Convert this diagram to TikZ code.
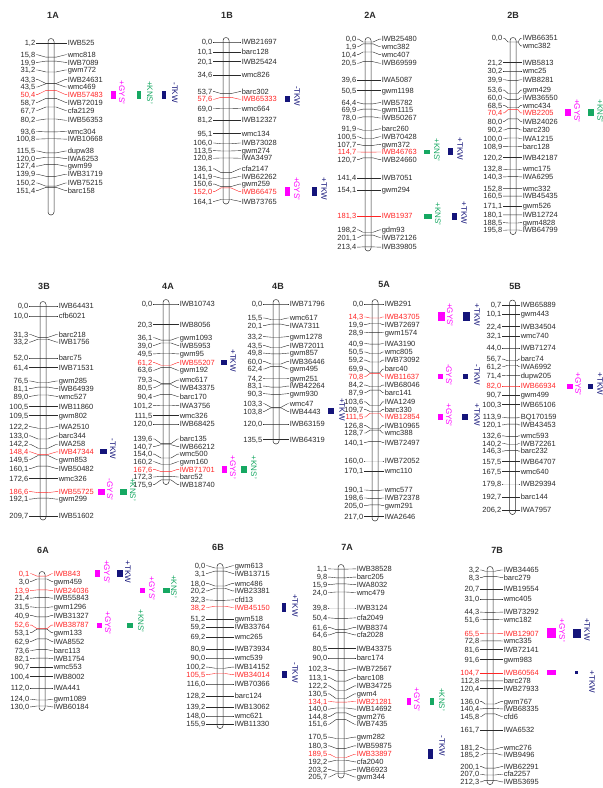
\documentclass[tikz,border=0pt]{standalone}
\usepackage{fontspec}
\setmainfont{Liberation Sans}
\usetikzlibrary{calc}
\definecolor{mkred}{HTML}{FF2626}
\definecolor{mkgray}{HTML}{2A2A2A}
\definecolor{qmag}{HTML}{FF00FF}
\definecolor{qgrn}{HTML}{16A862}
\definecolor{qnav}{HTML}{14147A}
\newcount\mkN
\def\mkd{7.6}
% #1 id, #2 xc, #3 y0, #4 scale, #5 xL, #6 xR, #7 bar top, #8 bar bottom, #9 list
\newcommand\chromo[9]{%
  \global\mkN=0
  \foreach \ca/\cb/\cn/\cf in {#9}{%
    \global\advance\mkN by 1
    \pgfmathsetmacro\mkt{#3+#4*\ca.\cb}%
    \expandafter\xdef\csname mkT\the\mkN\endcsname{\mkt}%
    \expandafter\xdef\csname mkP\the\mkN\endcsname{\ca,\cb}%
    \expandafter\xdef\csname mkM\the\mkN\endcsname{\cn}%
    \expandafter\xdef\csname mkF\the\mkN\endcsname{\cf}%
  }%
  \edef\mkn{\the\mkN}%
  \xdef\mkprev{-5000}%
  \foreach \i in {1,...,\mkn}{%
    \pgfmathsetmacro\mkf{max(\csname mkT\i\endcsname,\mkprev+\mkd)}%
    \expandafter\xdef\csname mkFw\i\endcsname{\mkf}%
    \xdef\mkprev{\mkf}%
  }%
  \xdef\mkprev{5000}%
  \foreach \i in {\mkn,...,1}{%
    \pgfmathsetmacro\mkb{min(\csname mkT\i\endcsname,\mkprev-\mkd)}%
    \expandafter\xdef\csname mkBw\i\endcsname{\mkb}%
    \xdef\mkprev{\mkb}%
  }%
  \draw[chrbar] (#2-3,#7) rectangle (#2+3,#8);
  \foreach \i in {1,...,\mkn}{%
    \pgfmathsetmacro\mkL{(\csname mkFw\i\endcsname+\csname mkBw\i\endcsname)/2}%
    \edef\mkT{\csname mkT\i\endcsname}%
    \edef\mkfl{\csname mkF\i\endcsname}%
    \if r\mkfl\def\mkcol{mkred}\else\def\mkcol{mkgray}\fi
    \if n\mkfl
      \node[mkname,text=mkgray,anchor=west] (#1-m\i) at (#6,\mkL) {\csname mkM\i\endcsname};
      \draw[mkline,draw=mkgray] (#2+3,\mkT) -- (#2+5,\mkT) -- ($(#1-m\i.west)+(-1.5,0)$) -- (#1-m\i.west);
    \else
      \node[mknum,text=\mkcol,anchor=east] (#1-n\i) at (#5,\mkL) {\csname mkP\i\endcsname};
      \node[mkname,text=\mkcol,anchor=west] (#1-m\i) at (#6,\mkL) {\csname mkM\i\endcsname};
      \draw[mkline,draw=\mkcol] (#1-n\i.east) -- ++(1.5,0) -- (#2-5,\mkT) -- (#2+5,\mkT) -- ($(#1-m\i.west)+(-1.5,0)$) -- (#1-m\i.west);
    \fi
  }%
}
% #1 chr, #2 marker, #3 box x, #4 w, #5 h, #6 colour, #7 text, #8 text x, #9 text dy
\newcommand\qtl[9]{%
  \coordinate (qx) at (#3,0);
  \coordinate (qtx) at (#8,0);
  \node[qbox,fill=#6,minimum width=#4pt,minimum height=#5pt] (#1-q#2#6) at (qx |- #1-m#2.west) {};
  \node[qtext,text=#6] (#1-t#2#6) at ($(qtx |- #1-m#2.west)+(0,#9)$) {#7};
}
\begin{document}
\begin{tikzpicture}[x=1pt,y=-1pt,
  chrbar/.style={draw=mkgray,line width=0.5pt,fill=white,rounded corners=2.9pt},
  mkline/.style={line width=0.4pt},
  mknum/.style={font=\fontsize{7.5}{8}\selectfont,inner sep=0.6pt,text height=5.4pt,text depth=0pt},
  mkname/.style={font=\fontsize{7.5}{8}\selectfont,inner sep=0.6pt,text height=5.4pt,text depth=0pt},
  qbox/.style={inner sep=0pt,outer sep=0pt,draw=none},
  qtext/.style={font=\fontsize{8}{9}\selectfont,inner sep=0pt,rotate=-90},
  ctitle/.style={font=\bfseries\fontsize{9}{10}\selectfont,text=mkgray}]
\useasboundingbox (0,0) rectangle (603,788);
\fill[white] (0,0) rectangle (603,788);

\node[ctitle] (T1A) at (53,15) {1A};
\node[ctitle] (T1B) at (227,15) {1B};
\node[ctitle] (T2A) at (370,15) {2A};
\node[ctitle] (T2B) at (513,15) {2B};
\node[ctitle] (T3B) at (44,286) {3B};
\node[ctitle] (T4A) at (168,286) {4A};
\node[ctitle] (T4B) at (278,286) {4B};
\node[ctitle] (T5A) at (384,284) {5A};
\node[ctitle] (T5B) at (515,286) {5B};
\node[ctitle] (T6A) at (43,550) {6A};
\node[ctitle] (T6B) at (218,547) {6B};
\node[ctitle] (T7A) at (347,547) {7A};
\node[ctitle] (T7B) at (497,550) {7B};

\chromo{1A}{51}{42}{0.96}{36}{67}{38.5}{215}{1/2/IWB525/k, 15/8/wmc818/k, 19/9/IWB7089/k, 31/2/gwm772/k, 43/3/IWB24631/k, 43/5/wmc469/k, 50/4/IWB57483/r, 58/7/IWB72019/k, 67/7/cfa2129/k, 80/2/IWB56353/k, 93/6/wmc304/k, 100/8/IWB10668/k, 115/5/dupw38/k, 120/0/IWA6253/k, 127/4/gwm99/k, 139/9/IWB31719/k, 150/2/IWB75215/k, 151/4/barc158/k}

\chromo{1B}{226}{42}{0.96}{213}{241}{37.5}{204}{0/0/IWB21697/k, 10/1/barc128/k, 20/1/IWB25424/k, 34/6/wmc826/k, 53/7/barc302/k, 57/6/IWB65333/r, 69/0/wmc664/k, 81/2/IWB12327/k, 95/1/wmc134/k, 106/0/IWB73028/k, 113/5/gwm274/k, 120/8/IWA3497/k, 136/1/cfa2147/k, 141/9/IWB62262/k, 150/6/gwm259/k, 152/0/IWB66475/r, 164/1/IWB73765/k}

\chromo{2A}{368}{42}{0.96}{357}{381}{37.5}{251}{0/0/IWB25480/k, 1/9/wmc382/k, 10/4/wmc407/k, 20/5/IWB69599/k, 39/6/IWA5087/k, 50/5/gwm1198/k, 64/4/IWB5782/k, 69/9/gwm1115/k, 78/0/IWB50267/k, 91/9/barc260/k, 100/5/IWB70428/k, 107/7/gwm372/k, 114/7/IWB46763/r, 120/7/IWB24660/k, 141/4/IWB7051/k, 154/1/gwm294/k, 181/3/IWB1937/r, 198/2/gdm93/k, 201/1/IWB72126/k, 213/4/IWB39805/k}

\chromo{2B}{513}{42}{0.96}{503}{522}{37.5}{234.5}{0/0/IWB66351/k, 0/0/wmc382/n, 21/2/IWB5813/k, 30/2/wmc25/k, 39/9/IWB8281/k, 53/6/gwm429/k, 60/0/IWB36550/k, 68/5/wmc434/k, 70/4/IWB2205/r, 80/0/IWB24026/k, 90/2/barc230/k, 100/0/IWA1215/k, 108/9/barc128/k, 120/2/IWB42187/k, 132/8/wmc175/k, 140/3/IWA6295/k, 152/8/wmc332/k, 160/5/IWB45435/k, 171/1/gwm526/k, 180/1/IWB12724/k, 188/5/gwm4828/k, 195/8/IWB64799/k}

\chromo{3B}{43}{306}{1}{29}{58}{301.5}{520}{0/0/IWB64431/k, 10/0/cfb6021/k, 31/3/barc218/k, 33/2/IWB1756/k, 52/0/barc75/k, 61/4/IWB71531/k, 76/5/gwm285/k, 81/1/IWB64939/k, 89/0/wmc527/k, 100/5/IWB11860/k, 109/5/gwm802/k, 122/2/IWA2510/k, 133/0/barc344/k, 142/2/IWA258/k, 148/4/IWB47344/r, 149/5/gwm853/k, 160/1/IWB50482/k, 172/6/wmc326/k, 186/6/IWB55725/r, 192/1/gwm299/k, 209/7/IWB51602/k}

\chromo{4A}{166}{304}{1}{153}{179}{299.5}{484.5}{0/0/IWB10743/k, 20/3/IWB8056/k, 36/1/gwm1093/k, 39/0/IWB5953/k, 49/5/gwm95/k, 61/2/IWB55207/r, 63/6/gwm192/k, 79/3/wmc617/k, 80/5/IWB43375/k, 90/4/barc170/k, 101/2/IWA3756/k, 111/5/wmc326/k, 120/0/IWB68425/k, 139/6/barc135/k, 140/7/IWB66212/k, 154/0/wmc500/k, 160/2/gwm160/k, 167/6/IWB71701/r, 172/3/barc52/k, 175/9/IWB18740/k}

\chromo{4B}{276}{304}{1}{263}{289}{299.5}{444}{0/0/IWB71796/k, 15/5/wmc617/k, 20/1/IWA7311/k, 33/2/gwm1278/k, 43/5/IWB72011/k, 49/8/gwm857/k, 60/0/IWB36446/k, 62/4/gwm495/k, 74/2/gwm251/k, 83/1/IWB42264/k, 90/3/gwm930/k, 103/3/wmc47/k, 103/8/IWB4443/k, 120/0/IWB63159/k, 135/5/IWB64319/k}

\chromo{5A}{375}{304}{0.98}{364}{384}{299.5}{521}{0/0/IWB291/k, 14/3/IWB43705/r, 19/9/IWB72697/k, 28/9/gwm1574/k, 40/9/IWA3190/k, 50/5/wmc805/k, 59/2/IWB73092/k, 69/9/barc40/k, 70/8/IWB11637/r, 84/2/IWB68046/k, 87/9/barc141/k, 103/6/IWA1249/k, 109/7/barc330/k, 111/5/IWB12854/r, 126/8/IWB10965/k, 128/7/wmc388/k, 140/1/IWB72497/k, 160/0/IWB72052/k, 170/1/wmc110/k, 190/1/wmc577/k, 198/6/IWB72378/k, 205/0/gwm291/k, 217/0/IWA2646/k}

\chromo{5B}{512.5}{304}{1}{502}{520}{300}{514.5}{0/7/IWB65889/k, 10/1/gwm443/k, 22/4/IWB34504/k, 32/1/wmc740/k, 44/0/IWB71274/k, 56/7/barc74/k, 61/2/IWA6992/k, 71/4/dupw205/k, 82/0/IWB66934/r, 90/7/gwm499/k, 100/3/IWB65106/k, 113/9/BQ170159/k, 120/1/IWB43453/k, 132/6/wmc593/k, 140/2/IWB72261/k, 146/3/barc232/k, 157/5/IWB64707/k, 167/5/wmc640/k, 179/8/IWB29394/k, 192/7/barc144/k, 206/2/IWA7957/k}

\chromo{6A}{42}{576}{1}{30}{53}{571.5}{710.5}{0/1/IWB843/r, 3/0/gwm459/k, 13/9/IWB24036/r, 21/4/IWB55843/k, 31/5/gwm1296/k, 40/9/IWB31327/k, 52/6/IWB38787/r, 53/1/gwm133/k, 62/9/IWA8552/k, 73/6/barc113/k, 82/1/IWB1754/k, 90/7/wmc553/k, 100/4/IWB8002/k, 112/0/IWA441/k, 124/0/gwm1089/k, 130/0/IWB60184/k}

\chromo{6B}{220}{568}{1}{206}{234}{563.5}{728.5}{0/0/gwm613/k, 3/1/IWB13715/k, 18/0/wmc486/k, 20/2/IWB23381/k, 32/3/cfd13/k, 38/2/IWB45150/r, 51/2/gwm518/k, 59/2/IWB33764/k, 69/2/wmc265/k, 80/9/IWB73934/k, 90/0/wmc539/k, 100/2/IWB14152/k, 105/5/IWB34014/r, 116/0/IWB70366/k, 128/2/barc124/k, 139/2/IWB13062/k, 148/0/wmc621/k, 155/9/IWB11330/k}

\chromo{7A}{341}{568}{1}{328}{356}{564.5}{778}{1/1/IWB38528/k, 9/8/barc205/k, 15/9/IWA8032/k, 24/0/wmc479/k, 39/8/IWB3124/k, 50/4/cfa2049/k, 61/6/IWB8374/k, 64/6/cfa2028/k, 80/5/IWB43375/k, 90/0/barc174/k, 102/3/IWB72567/k, 113/1/barc108/k, 122/2/IWB34725/k, 130/5/gwm4/k, 134/1/IWB21281/r, 140/0/IWB14692/k, 144/8/gwm276/k, 151/6/IWB7435/k, 170/5/gwm282/k, 180/3/IWB59875/k, 189/5/IWB33897/r, 192/2/cfa2040/k, 203/2/IWB6923/k, 205/7/gwm344/k}

\chromo{7B}{490}{568}{1}{480}{503}{566.5}{784.5}{3/2/IWB34465/k, 8/3/barc279/k, 20/7/IWB19554/k, 31/0/wmc405/k, 44/3/IWB73292/k, 51/6/wmc182/k, 65/5/IWB12907/r, 72/8/wmc335/k, 81/6/IWB72141/k, 91/6/gwm983/k, 104/7/IWB60564/r, 112/8/barc278/k, 120/4/IWB27933/k, 136/0/gwm767/k, 140/4/IWB68335/k, 145/8/cfd6/k, 161/7/IWA6532/k, 181/2/wmc276/k, 185/2/IWB9496/k, 200/1/IWB62291/k, 207/0/cfa2257/k, 212/3/IWB53695/k}

\qtl{1A}{7}{113.5}{5}{8}{qmag}{+GYS'}{122}{-2}
\qtl{1A}{7}{138.5}{4}{8}{qgrn}{+KNS'}{150}{-2}
\qtl{1A}{7}{164}{4}{8}{qnav}{-TKW}{175}{-2}
\qtl{1B}{6}{287.5}{5}{6}{qnav}{-TKW}{297}{-3}
\qtl{1B}{16}{287.5}{5}{9}{qmag}{+GYS'}{297}{-3}
\qtl{1B}{16}{314.5}{5}{9}{qnav}{+TKW}{324}{-3}
\qtl{2A}{13}{427}{6}{4}{qgrn}{+KNS'}{437}{-2}
\qtl{2A}{13}{450}{5}{7}{qnav}{+TKW}{460}{-3}
\qtl{2A}{17}{428}{8}{5}{qgrn}{+KNS'}{438}{-2}
\qtl{2A}{17}{454}{5}{7}{qnav}{+TKW}{464}{-3}
\qtl{2B}{9}{568}{6}{7}{qmag}{+GYS'}{577}{-2}
\qtl{2B}{9}{591}{6}{7}{qgrn}{+KNS'}{600}{-2}
\qtl{3B}{15}{103.5}{7}{5}{qnav}{-TKW}{113}{-3}
\qtl{3B}{19}{101.5}{7}{6}{qmag}{-GYS'}{110}{-2}
\qtl{3B}{19}{123.5}{7}{6}{qgrn}{+KNS'}{133}{-2}
\qtl{4A}{6}{224}{6}{5}{qnav}{+TKW}{233}{-2}
\qtl{4A}{18}{224.5}{5}{7}{qmag}{+GYS'}{233}{-2}
\qtl{4A}{18}{244}{6}{7}{qgrn}{+KNS'}{254}{-2}
\qtl{4B}{13}{331}{6}{6}{qnav}{+TKW}{342}{-2}
\qtl{5A}{2}{441.5}{7}{9}{qmag}{+GYS'}{450}{-2}
\qtl{5A}{2}{466.5}{7}{9}{qnav}{+TKW}{477}{-2}
\qtl{5A}{9}{440.5}{5}{5}{qmag}{-GYS'}{449}{-2}
\qtl{5A}{9}{465.5}{5}{5}{qnav}{-TKW}{477}{-2}
\qtl{5A}{14}{440.5}{5}{6}{qmag}{+GYS'}{449}{-2}
\qtl{5A}{14}{465}{6}{6}{qnav}{+TKW}{477}{-2}
\qtl{5B}{9}{570}{6}{5}{qmag}{+GYS'}{578}{-2}
\qtl{5B}{9}{590.5}{5}{5}{qnav}{+TKW}{600}{-2}
\qtl{6A}{1}{97.5}{5}{7}{qmag}{+GYS'}{107}{-2}
\qtl{6A}{1}{120}{6}{7}{qnav}{+TKW}{128}{-2}
\qtl{6A}{3}{142.5}{5}{5}{qmag}{+GYS'}{152}{-2}
\qtl{6A}{3}{166.5}{7}{5}{qgrn}{+KNS'}{174}{-4}
\qtl{6A}{7}{99.5}{5}{5}{qmag}{+GYS'}{108}{-2}
\qtl{6A}{7}{130}{6}{5}{qgrn}{+KNS'}{141}{-4}
\qtl{6B}{6}{284}{4}{9}{qnav}{+TKW}{295}{-2}
\qtl{6B}{13}{284.5}{5}{7}{qnav}{-TKW}{295}{-2}
\qtl{7A}{15}{408.5}{4}{7}{qmag}{+GYS'}{417}{-2}
\qtl{7A}{15}{431.5}{4}{7}{qgrn}{+KNS'}{442}{-2}
\qtl{7A}{21}{430.5}{5}{10}{qnav}{-TKW}{442}{-8}
\qtl{7B}{7}{551.5}{9}{10}{qmag}{+GYS'}{562}{-3}
\qtl{7B}{7}{577}{8}{9}{qnav}{+TKW}{587}{-4}
\qtl{7B}{11}{551.5}{9}{5}{qmag}{}{551.5}{0}
\qtl{7B}{11}{576.5}{3}{3}{qnav}{+TKW}{592}{9}
\end{tikzpicture}
\end{document}
